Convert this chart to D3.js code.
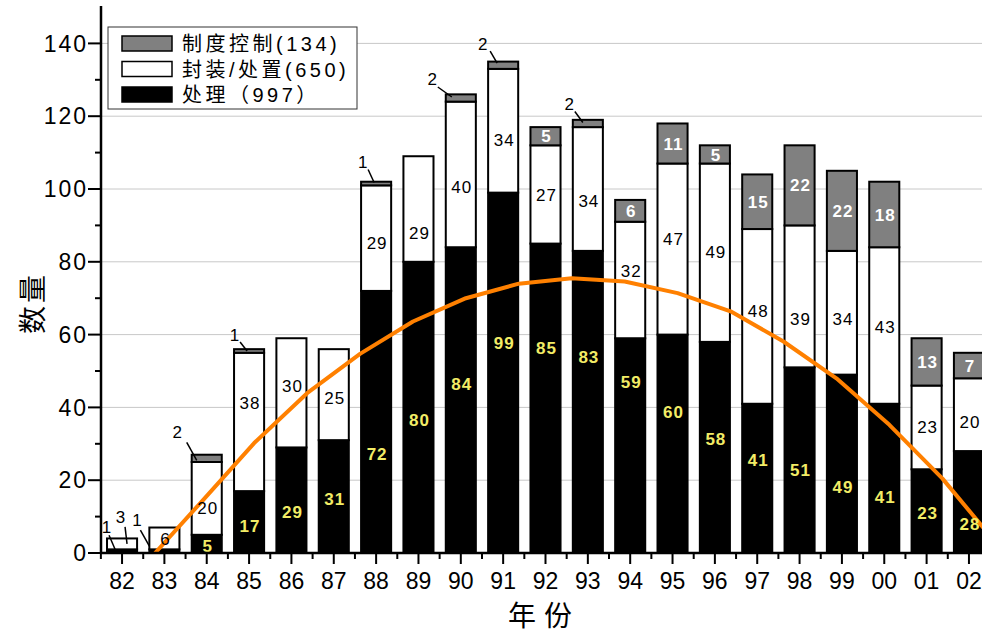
<!DOCTYPE html>
<html lang="zh">
<head>
<meta charset="UTF-8">
<title>数量 / 年份</title>
<script src="https://d3js.org/d3.v7.min.js"></script>
<style>
    body { margin: 0; background: #fff; }
    svg { display: block; }
    .tick-y { font: 23px "Liberation Sans", Arial, sans-serif; letter-spacing: 2px; fill: #000; }
    .tick-x { font: 23px "Liberation Sans", Arial, sans-serif; fill: #000; }
    .title { font-family: "Noto Sans CJK SC", sans-serif; font-size: 28px; fill: #000; }
    .legend-text { font-family: "Liberation Sans", "Noto Sans CJK SC", sans-serif; font-size: 20px; letter-spacing: 3.5px; fill: #000; }
    .lbl { font-family: "Liberation Sans", Arial, sans-serif; font-size: 17px; letter-spacing: 1px; }
</style>
</head>
<body>
<svg id="chart"></svg>
<script>
    // data
    const years = ["82","83","84","85","86","87","88","89","90","91","92","93","94","95","96","97","98","99","00","01","02"];
    const chuli   = [1, 1, 5, 17, 29, 31, 72, 80, 84, 99, 85, 83, 59, 60, 58, 41, 51, 49, 41, 23, 28];   // 处理
    const fengzhi = [3, 6, 20, 38, 30, 25, 29, 29, 40, 34, 27, 34, 32, 47, 49, 48, 39, 34, 43, 23, 20]; // 封装/处置
    const zhidu   = [0, 0, 2, 1, 0, 0, 1, 0, 2, 2, 5, 2, 6, 11, 5, 15, 22, 22, 18, 13, 7];           // 制度控制
    // orange trend line, position in year steps from 82 and value
    const trendT = [0.78, 1.87, 3.12, 4.37, 5.62, 6.87, 8.12, 9.37, 10.62, 11.87, 13.12, 14.37, 15.62, 16.87, 18.12, 19.37, 20.62];
    const trendV = [0, 14, 30.2, 43.9, 54.7, 63.6, 70.0, 74.0, 75.5, 74.6, 71.4, 66.4, 58.1, 48.0, 35.2, 20.5, 3];
    const yTicks = [0, 20, 40, 60, 80, 100, 120, 140];
    const legendItems = [
        { key: "zhidu", name: "制度控制(134)" },
        { key: "fengzhi", name: "封装/处置(650)" },
        { key: "chuli", name: "处理（997）" }
    ];

    // where the value labels sit (in axis units), as placed in the original
    const labelAt = {
        chuli:   [null, null, 1.9, 7.5, 11.4, 15.0, 27.1, 36.6, 46.4, 57.7, 56.3, 54.0, 47.1, 38.7, 31.3, 25.6, 22.8, 18.3, 15.3, 10.9, 7.9],
        fengzhi: [null, 4, 12.3, 41.2, 45.9, 42.5, 85.3, 87.9, 100.5, 113.6, 98.5, 96.8, 77.6, 86.4, 82.7, 66.6, 64.3, 64.3, 62.1, 34.6, 35.9]
    };

    const width = 982, height = 635;
    const plotLeft = 101, plotBottom = 553, plotTop = 7;
    const colors = { chuli: "#000", fengzhi: "#fff", zhidu: "#808080" };
    const labelColors = { chuli: "#f2ec66", fengzhi: "#000", zhidu: "#fff" };

    const svg = d3.select("#chart").attr("width", width).attr("height", height);

    const rows = years.map((yr, i) => ({ year: yr, idx: i, chuli: chuli[i], fengzhi: fengzhi[i], zhidu: zhidu[i] }));
    const keys = ["chuli", "fengzhi", "zhidu"];
    const series = d3.stack().keys(keys)(rows);

    const x = d3.scaleBand().domain(years).range([plotLeft, 990])
        .paddingInner(0.29).paddingOuter(0.142);
    const y = d3.scaleLinear().domain([0, 150]).range([plotBottom, plotTop]);

    // grid
    svg.append("g").selectAll("line").data(yTicks.filter(d => d > 0)).join("line")
        .attr("x1", plotLeft).attr("x2", width)
        .attr("y1", d => y(d)).attr("y2", d => y(d))
        .attr("stroke", "#c8c8c8").attr("stroke-width", 1);

    // bars
    svg.append("g").selectAll("g").data(series).join("g")
        .attr("fill", s => colors[s.key])
        .selectAll("rect").data(s => s.filter(d => d[1] > d[0])).join("rect")
        .attr("x", d => x(d.data.year))
        .attr("y", d => y(d[1]))
        .attr("width", x.bandwidth())
        .attr("height", d => y(d[0]) - y(d[1]))
        .attr("stroke", "#000").attr("stroke-width", 2);

    // trend line
    svg.append("clipPath").attr("id", "plotClip")
        .append("rect").attr("x", plotLeft).attr("y", 0).attr("width", width - plotLeft).attr("height", plotBottom);
    const cx = t => x(years[0]) + x.bandwidth() / 2 + t * x.step();
    svg.append("path")
        .attr("clip-path", "url(#plotClip)")
        .attr("d", d3.line().x(d => cx(d[0])).y(d => y(d[1]))(trendT.map((t, i) => [t, trendV[i]])))
        .attr("fill", "none").attr("stroke", "#ff8000").attr("stroke-width", 4).attr("stroke-linejoin", "round");

    // labels inside segments
    const lab = svg.append("g").attr("class", "lbl").attr("text-anchor", "middle");
    series.forEach(s => {
        s.forEach(d => {
            const v = d[1] - d[0];
            const at = labelAt[s.key] ? labelAt[s.key][d.data.idx] : (v >= 5 ? (d[0] + d[1]) / 2 : null);
            if (at == null) return;
            lab.append("text")
                .attr("x", x(d.data.year) + x.bandwidth() / 2 + 1)
                .attr("y", y(at))
                .attr("dy", "0.36em")
                .attr("fill", labelColors[s.key])
                .attr("font-weight", s.key === "fengzhi" ? "normal" : "bold")
                .text(v);
        });
    });

    // callouts for thin segments: offsets of text and leader from bar centre / segment middle
    const callouts = {
        "82chuli":   [-15, -24, -13, -16, -7, -2],
        "82fengzhi": [-1, -27, 3, -17, 5, 0],
        "83chuli":   [-27, -31, -24, -21, -15, -5],
        "84zhidu":   [-29, -26, -20, -16, -10, 2],
        "85zhidu":   [-14, -16, -9, -9, -2, 0],
        "88zhidu":   [-13, -22, -8, -14, -2, -1],
        "90zhidu":   [-28, -19, -23, -11, -9, -1],
        "91zhidu":   [-20, -21, -13, -14, -6, -2],
        "93zhidu":   [-18, -20, -13, -12, -5, -1]
    };
    series.forEach(s => {
        s.forEach(d => {
            const c = callouts[d.data.year + s.key];
            if (!c || d[1] <= d[0]) return;
            const bx = x(d.data.year) + x.bandwidth() / 2;
            const my = (y(d[0]) + y(d[1])) / 2;
            svg.append("line")
                .attr("x1", bx + c[2]).attr("y1", my + c[3])
                .attr("x2", bx + c[4]).attr("y2", my + c[5])
                .attr("stroke", "#000").attr("stroke-width", 1.5);
            lab.append("text")
                .attr("x", bx + c[0]).attr("y", my + c[1])
                .attr("dy", "0.36em").attr("fill", "#000")
                .text(d[1] - d[0]);
        });
    });

    // y axis
    const yAxis = svg.append("g");
    yAxis.append("line").attr("x1", plotLeft).attr("x2", plotLeft).attr("y1", plotTop - 1).attr("y2", plotBottom + 1)
        .attr("stroke", "#000").attr("stroke-width", 2.5);
    yAxis.selectAll(".minor").data(d3.range(10, 150, 20)).join("line")
        .attr("x1", plotLeft - 6).attr("x2", plotLeft).attr("y1", d => y(d)).attr("y2", d => y(d))
        .attr("stroke", "#000").attr("stroke-width", 2);
    yAxis.selectAll(".major").data(yTicks).join("line")
        .attr("x1", plotLeft - 13).attr("x2", plotLeft).attr("y1", d => y(d)).attr("y2", d => y(d))
        .attr("stroke", "#000").attr("stroke-width", 2);
    yAxis.selectAll("text").data(yTicks).join("text")
        .attr("class", "tick-y").attr("text-anchor", "end")
        .attr("x", 88).attr("y", d => y(d)).attr("dy", "0.36em")
        .text(d => d);

    // x axis
    const xAxis = svg.append("g");
    xAxis.append("line").attr("x1", plotLeft - 1).attr("x2", width).attr("y1", plotBottom).attr("y2", plotBottom)
        .attr("stroke", "#000").attr("stroke-width", 2.5);
    xAxis.selectAll(".major").data(years).join("line")
        .attr("x1", d => x(d) + x.bandwidth() / 2).attr("x2", d => x(d) + x.bandwidth() / 2)
        .attr("y1", plotBottom).attr("y2", plotBottom + 11)
        .attr("stroke", "#000").attr("stroke-width", 2);
    xAxis.selectAll(".minor").data(years).join("line")
        .attr("x1", d => x(d) - x.step() * 0.145).attr("x2", d => x(d) - x.step() * 0.145)
        .attr("y1", plotBottom).attr("y2", plotBottom + 6)
        .attr("stroke", "#000").attr("stroke-width", 2);
    xAxis.selectAll("text").data(years).join("text")
        .attr("class", "tick-x").attr("text-anchor", "middle")
        .attr("x", d => x(d) + x.bandwidth() / 2).attr("y", 589)
        .text(d => d);

    // titles
    svg.append("text").attr("class", "title").attr("text-anchor", "middle")
        .attr("x", 544).attr("y", 626).attr("letter-spacing", "8px").text("年份");
    svg.append("text").attr("class", "title").attr("text-anchor", "middle")
        .attr("transform", "translate(43,303) rotate(-90)").attr("letter-spacing", "3px").text("数量");

    // legend
    const lg = svg.append("g");
    lg.append("rect").attr("x", 108).attr("y", 27).attr("width", 249).attr("height", 82)
        .attr("fill", "#fff").attr("stroke", "#333").attr("stroke-width", 1);
    const item = lg.selectAll(".item").data(legendItems).join("g")
        .attr("transform", (d, i) => `translate(0,${36 + i * 25.5})`);
    item.append("rect").attr("x", 122).attr("y", 0).attr("width", 50).attr("height", 15)
        .attr("fill", d => colors[d.key]).attr("stroke", "#000").attr("stroke-width", 1.5);
    item.append("text").attr("class", "legend-text").attr("x", 182).attr("y", 8).attr("dy", "0.36em")
        .text(d => d.name);
</script>
</body>
</html>
